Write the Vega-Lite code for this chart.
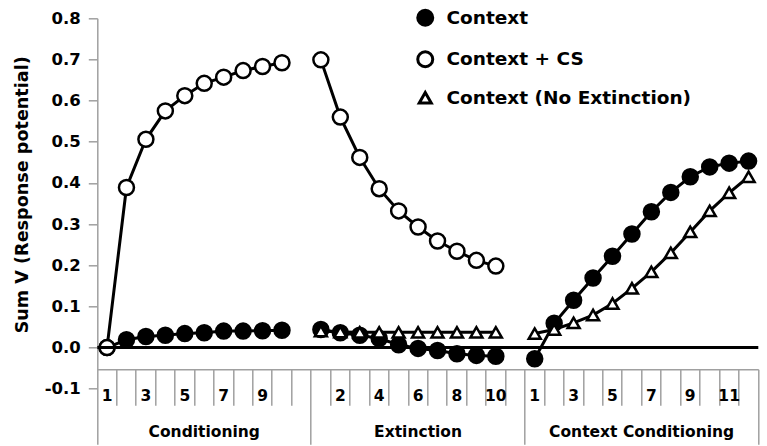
{
  "$schema": "https://vega.github.io/schema/vega-lite/v6.json",
  "width": 661,
  "height": 426,
  "autosize": {"type": "none"},
  "padding": {"left": 97.3, "top": 18.3, "right": 8.7, "bottom": 1.7},
  "background": "white",
  "config": {"view": {"stroke": null}, "font": "DejaVu Sans"},
  "data": {"values": [
    {"series": "Context", "phase": "Conditioning", "slot": 1, "v": 0.0},
    {"series": "Context", "phase": "Conditioning", "slot": 2, "v": 0.019},
    {"series": "Context", "phase": "Conditioning", "slot": 3, "v": 0.027},
    {"series": "Context", "phase": "Conditioning", "slot": 4, "v": 0.030},
    {"series": "Context", "phase": "Conditioning", "slot": 5, "v": 0.034},
    {"series": "Context", "phase": "Conditioning", "slot": 6, "v": 0.036},
    {"series": "Context", "phase": "Conditioning", "slot": 7, "v": 0.040},
    {"series": "Context", "phase": "Conditioning", "slot": 8, "v": 0.040},
    {"series": "Context", "phase": "Conditioning", "slot": 9, "v": 0.041},
    {"series": "Context", "phase": "Conditioning", "slot": 10, "v": 0.042},
    {"series": "Context", "phase": "Extinction", "slot": 12, "v": 0.044},
    {"series": "Context", "phase": "Extinction", "slot": 13, "v": 0.036},
    {"series": "Context", "phase": "Extinction", "slot": 14, "v": 0.030},
    {"series": "Context", "phase": "Extinction", "slot": 15, "v": 0.022},
    {"series": "Context", "phase": "Extinction", "slot": 16, "v": 0.007},
    {"series": "Context", "phase": "Extinction", "slot": 17, "v": -0.002},
    {"series": "Context", "phase": "Extinction", "slot": 18, "v": -0.007},
    {"series": "Context", "phase": "Extinction", "slot": 19, "v": -0.015},
    {"series": "Context", "phase": "Extinction", "slot": 20, "v": -0.019},
    {"series": "Context", "phase": "Extinction", "slot": 21, "v": -0.021},
    {"series": "Context", "phase": "Context Conditioning", "slot": 23, "v": -0.027},
    {"series": "Context", "phase": "Context Conditioning", "slot": 24, "v": 0.059},
    {"series": "Context", "phase": "Context Conditioning", "slot": 25, "v": 0.115},
    {"series": "Context", "phase": "Context Conditioning", "slot": 26, "v": 0.169},
    {"series": "Context", "phase": "Context Conditioning", "slot": 27, "v": 0.222},
    {"series": "Context", "phase": "Context Conditioning", "slot": 28, "v": 0.276},
    {"series": "Context", "phase": "Context Conditioning", "slot": 29, "v": 0.330},
    {"series": "Context", "phase": "Context Conditioning", "slot": 30, "v": 0.377},
    {"series": "Context", "phase": "Context Conditioning", "slot": 31, "v": 0.415},
    {"series": "Context", "phase": "Context Conditioning", "slot": 32, "v": 0.439},
    {"series": "Context", "phase": "Context Conditioning", "slot": 33, "v": 0.448},
    {"series": "Context", "phase": "Context Conditioning", "slot": 34, "v": 0.453},
    {"series": "Context + CS", "phase": "Conditioning", "slot": 1, "v": 0.0},
    {"series": "Context + CS", "phase": "Conditioning", "slot": 2, "v": 0.389},
    {"series": "Context + CS", "phase": "Conditioning", "slot": 3, "v": 0.506},
    {"series": "Context + CS", "phase": "Conditioning", "slot": 4, "v": 0.575},
    {"series": "Context + CS", "phase": "Conditioning", "slot": 5, "v": 0.612},
    {"series": "Context + CS", "phase": "Conditioning", "slot": 6, "v": 0.642},
    {"series": "Context + CS", "phase": "Conditioning", "slot": 7, "v": 0.657},
    {"series": "Context + CS", "phase": "Conditioning", "slot": 8, "v": 0.673},
    {"series": "Context + CS", "phase": "Conditioning", "slot": 9, "v": 0.683},
    {"series": "Context + CS", "phase": "Conditioning", "slot": 10, "v": 0.692},
    {"series": "Context + CS", "phase": "Extinction", "slot": 12, "v": 0.699},
    {"series": "Context + CS", "phase": "Extinction", "slot": 13, "v": 0.560},
    {"series": "Context + CS", "phase": "Extinction", "slot": 14, "v": 0.462},
    {"series": "Context + CS", "phase": "Extinction", "slot": 15, "v": 0.386},
    {"series": "Context + CS", "phase": "Extinction", "slot": 16, "v": 0.332},
    {"series": "Context + CS", "phase": "Extinction", "slot": 17, "v": 0.293},
    {"series": "Context + CS", "phase": "Extinction", "slot": 18, "v": 0.259},
    {"series": "Context + CS", "phase": "Extinction", "slot": 19, "v": 0.234},
    {"series": "Context + CS", "phase": "Extinction", "slot": 20, "v": 0.212},
    {"series": "Context + CS", "phase": "Extinction", "slot": 21, "v": 0.198},
    {"series": "Context (No Extinction)", "phase": "Extinction", "slot": 12, "v": 0.040},
    {"series": "Context (No Extinction)", "phase": "Extinction", "slot": 13, "v": 0.038},
    {"series": "Context (No Extinction)", "phase": "Extinction", "slot": 14, "v": 0.037},
    {"series": "Context (No Extinction)", "phase": "Extinction", "slot": 15, "v": 0.037},
    {"series": "Context (No Extinction)", "phase": "Extinction", "slot": 16, "v": 0.037},
    {"series": "Context (No Extinction)", "phase": "Extinction", "slot": 17, "v": 0.037},
    {"series": "Context (No Extinction)", "phase": "Extinction", "slot": 18, "v": 0.037},
    {"series": "Context (No Extinction)", "phase": "Extinction", "slot": 19, "v": 0.037},
    {"series": "Context (No Extinction)", "phase": "Extinction", "slot": 20, "v": 0.037},
    {"series": "Context (No Extinction)", "phase": "Extinction", "slot": 21, "v": 0.037},
    {"series": "Context (No Extinction)", "phase": "Context Conditioning", "slot": 23, "v": 0.034},
    {"series": "Context (No Extinction)", "phase": "Context Conditioning", "slot": 24, "v": 0.044},
    {"series": "Context (No Extinction)", "phase": "Context Conditioning", "slot": 25, "v": 0.060},
    {"series": "Context (No Extinction)", "phase": "Context Conditioning", "slot": 26, "v": 0.079},
    {"series": "Context (No Extinction)", "phase": "Context Conditioning", "slot": 27, "v": 0.107},
    {"series": "Context (No Extinction)", "phase": "Context Conditioning", "slot": 28, "v": 0.144},
    {"series": "Context (No Extinction)", "phase": "Context Conditioning", "slot": 29, "v": 0.184},
    {"series": "Context (No Extinction)", "phase": "Context Conditioning", "slot": 30, "v": 0.230},
    {"series": "Context (No Extinction)", "phase": "Context Conditioning", "slot": 31, "v": 0.281},
    {"series": "Context (No Extinction)", "phase": "Context Conditioning", "slot": 32, "v": 0.332},
    {"series": "Context (No Extinction)", "phase": "Context Conditioning", "slot": 33, "v": 0.376},
    {"series": "Context (No Extinction)", "phase": "Context Conditioning", "slot": 34, "v": 0.415}
  ]},
  "encoding": {
    "y": {
      "field": "v",
      "type": "quantitative",
      "scale": {"domain": [-0.235, 0.8], "nice": false, "zero": false},
      "axis": {
        "values": [-0.1, 0, 0.1, 0.2, 0.3, 0.4, 0.5, 0.6, 0.7, 0.8],
        "format": ".1f",
        "labelExpr": "replace(datum.label, '\u2212', '-')",
        "grid": false,
        "domainColor": "#a0a0a0",
        "domainWidth": 1.5,
        "tickColor": "#a0a0a0",
        "tickWidth": 1.5,
        "tickSize": 9,
        "labelPadding": 8,
        "labelFont": "DejaVu Sans",
        "labelFontWeight": "bold",
        "labelFontSize": 16.5,
        "labelColor": "black",
        "title": "Sum V (Response potential)",
        "titleFont": "DejaVu Sans",
        "titleFontWeight": "bold",
        "titleFontSize": 17.6,
        "titleColor": "black",
        "titleX": -75,
        "titleY": 176,
        "titleAlign": "center",
        "titleBaseline": "middle",
        "titleAngle": 270
      }
    }
  },
  "layer": [
    {
      "encoding": {
        "x": {
          "field": "slot",
          "type": "ordinal",
          "scale": {"type": "band", "domain": [1,2,3,4,5,6,7,8,9,10,11,12,13,14,15,16,17,18,19,20,21,22,23,24,25,26,27,28,29,30,31,32,33,34], "paddingInner": 0, "paddingOuter": 0},
          "axis": {
            "title": null,
            "grid": false,
            "bandPosition": 1,
            "offset": -75,
            "domainColor": "#a0a0a0",
            "domainWidth": 1.5,
            "tickColor": "#a0a0a0",
            "tickWidth": 1.5,
            "tickSize": {"condition": {"test": "datum.value == 11 || datum.value == 22 || datum.value == 34", "value": 75}, "value": 36},
            "labelExpr": "datum.value == 6 ? ['', 'Conditioning'] : datum.value == 17 ? ['6', 'Extinction'] : datum.value == 28 ? ['', 'Context Conditioning'] : (datum.value <= 9 && datum.value % 2 == 1) ? '' + datum.value : (datum.value >= 12 && datum.value <= 21 && (datum.value - 11) % 2 == 0) ? '' + (datum.value - 11) : (datum.value >= 23 && (datum.value - 22) % 2 == 1) ? '' + (datum.value - 22) : ''",
            "labelOffset": {"condition": {"test": "datum.value == 28", "value": 9.71}, "value": 0},
            "labelPadding": -16.8,
            "labelBaseline": "top",
            "labelAlign": "center",
            "labelLineHeight": 36,
            "labelLimit": 0,
            "labelFont": "DejaVu Sans",
            "labelFontWeight": "bold",
            "labelFontSize": 15.5,
            "labelColor": "black",
            "labelAngle": 0,
            "labelOverlap": false,
            "labelBound": false,
            "labelFlush": false
          }
        }
      },
      "layer": [
        {
          "mark": {"type": "line", "color": "black", "strokeWidth": 3},
          "encoding": {"detail": [{"field": "series"}, {"field": "phase"}]}
        },
        {
          "mark": {"type": "point", "filled": true, "stroke": "black", "strokeWidth": 2.5, "opacity": 1},
          "encoding": {
            "shape": {
              "field": "series",
              "type": "nominal",
              "scale": {"domain": ["Context", "Context + CS", "Context (No Extinction)"], "range": ["circle", "circle", "triangle-up"]},
              "legend": {
                "orient": "none",
                "legendX": 318.7,
                "legendY": -9.8,
                "title": null,
                "padding": 0,
                "rowPadding": 13.5,
                "labelOffset": 12,
                "labelLimit": 0,
                "labelFont": "DejaVu Sans",
                "labelFontWeight": "bold",
                "labelFontSize": 18.5,
                "labelColor": "black",
                "symbolStrokeWidth": 3,
                "symbolStrokeColor": "black"
              }
            },
            "fill": {
              "field": "series",
              "type": "nominal",
              "scale": {"domain": ["Context", "Context + CS", "Context (No Extinction)"], "range": ["black", "white", "white"]}
            },
            "size": {
              "field": "series",
              "type": "nominal",
              "scale": {"type": "ordinal", "domain": ["Context", "Context + CS", "Context (No Extinction)"], "range": [225, 225, 144]}
            }
          }
        }
      ]
    },
    {
      "data": {"values": [{"v": 0}]},
      "mark": {"type": "rule", "color": "black", "strokeWidth": 3}
    }
  ]
}
